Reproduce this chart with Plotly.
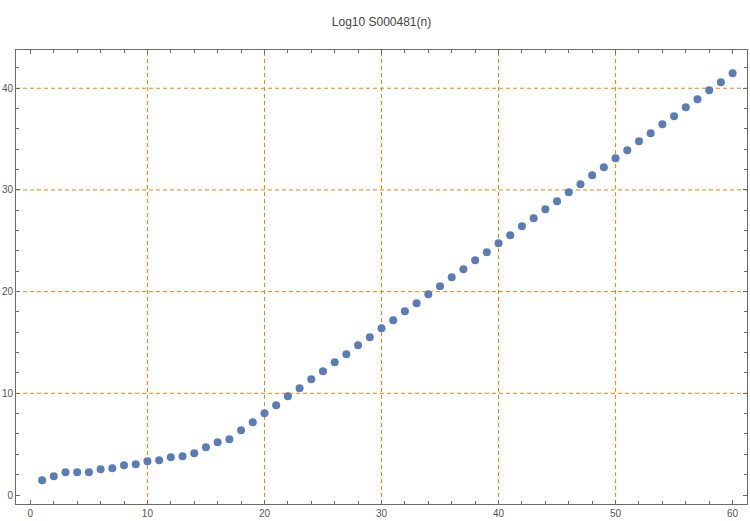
import plotly.graph_objects as go

n = list(range(1, 61))
log10_values = [
    1.44, 1.84, 2.23, 2.23, 2.23, 2.52, 2.62, 2.92, 3.02, 3.31,
    3.41, 3.70, 3.80, 4.10, 4.69, 5.18, 5.48, 6.36, 7.15, 8.03,
    8.82, 9.70, 10.49, 11.38, 12.16, 13.05, 13.83, 14.72, 15.51, 16.39,
    17.18, 18.06, 18.85, 19.73, 20.52, 21.41, 22.19, 23.08, 23.86, 24.75,
    25.54, 26.42, 27.21, 28.09, 28.88, 29.76, 30.55, 31.44, 32.22, 33.11,
    33.89, 34.78, 35.57, 36.45, 37.24, 38.12, 38.91, 39.79, 40.58, 41.47,
]
x_ticks = [0, 10, 20, 30, 40, 50, 60]
y_ticks = [0, 10, 20, 30, 40]
grid_x = [10, 20, 30, 40, 50]
grid_y = [10, 20, 30, 40]

ORANGE = "rgb(255,128,0)"
AXIS = "#6b6b6b"
TEXT = "#555555"

fig = go.Figure()
fig.add_trace(go.Scatter(
    x=n, y=log10_values, mode="markers",
    marker=dict(size=8, color="#5a7db8", line=dict(width=0)),
    showlegend=False, cliponaxis=False,
))

shapes = []
for gx in grid_x:
    shapes.append(dict(type="line", xref="x", yref="paper", x0=gx, x1=gx, y0=0, y1=1,
                       line=dict(color=ORANGE, width=1, dash="4px,3px"), layer="below"))
for gy in grid_y:
    shapes.append(dict(type="line", xref="paper", yref="y", x0=0, x1=1, y0=gy, y1=gy,
                       line=dict(color=ORANGE, width=1, dash="4px,3px"), layer="below"))

axis_common = dict(
    showgrid=False, zeroline=False, showline=True, linecolor=AXIS, linewidth=1,
    mirror="ticks", ticks="inside", ticklen=4, tickcolor=AXIS, tickwidth=1,
    tickfont=dict(family="Liberation Sans, Arial, sans-serif", size=10, color=TEXT),
)

fig.update_layout(
    width=750, height=521,
    margin=dict(l=14, r=2, t=50, b=17),
    paper_bgcolor="white", plot_bgcolor="white",
    title=dict(text="Log10 S000481(n)", x=0.5, xref="paper", y=1 - 22 / 521,
               yref="container", yanchor="middle",
               font=dict(family="Liberation Sans, Arial, sans-serif", size=12, color="#444444")),
    xaxis=dict(range=[-1.23, 61.23], tickvals=x_ticks,
               minor=dict(ticks="inside", dtick=2, ticklen=3, tickcolor=AXIS, showgrid=False),
               **axis_common),
    yaxis=dict(range=[-0.885, 43.76], tickvals=y_ticks,
               minor=dict(ticks="inside", dtick=2, ticklen=3, tickcolor=AXIS, showgrid=False),
               **axis_common),
    shapes=shapes,
)

fig.write_html(
    "out.html",
    config={"displayModeBar": False},
    post_script="document.body.style.margin='0';document.body.style.padding='0';"
                "document.body.style.overflow='hidden';",
)
